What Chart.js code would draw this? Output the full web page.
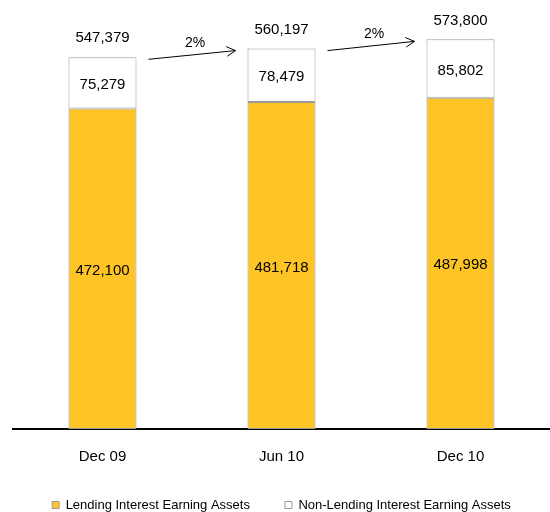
<!DOCTYPE html>
<html>
<head>
<meta charset="utf-8">
<script src="https://cdn.jsdelivr.net/npm/chart.js@4/dist/chart.umd.min.js"></script>
<style>
  html, body { margin: 0; padding: 0; background: #fff; }
  #wrap { width: 550px; height: 512px; }
</style>
</head>
<body>
<div id="wrap"><canvas id="assetsChart"></canvas></div>
<script>
var periods = ['Dec 09', 'Jun 10', 'Dec 10'];
var lending = [472100, 481718, 487998];
var nonLending = [75279, 78479, 85802];
var totals = [547379, 560197, 573800];
var growth = ['2%', '2%'];

var yellow = '#FEC425';
var edge = '#9a9a9a';
var fontName = '"Liberation Sans", Arial, sans-serif';

function fmt(v) {
    return v.toLocaleString('en-US');
}

// values inside the segments, totals above, and the growth arrows
var labelPlugin = {
    id: 'labels',
    afterDatasetsDraw: function(chart) {
        var ctx = chart.ctx;
        var bottom = chart.getDatasetMeta(0).data;
        var top = chart.getDatasetMeta(1).data;
        var y = chart.scales.y;
        ctx.save();
        ctx.fillStyle = '#000';
        ctx.font = '15px ' + fontName;
        ctx.textAlign = 'center';
        ctx.textBaseline = 'middle';
        for (var i = 0; i < periods.length; i++) {
            var b = bottom[i], t = top[i];
            ctx.fillText(fmt(lending[i]), b.x, (b.y + b.base) / 2 + 2);
            ctx.fillText(fmt(nonLending[i]), t.x, (t.y + t.base) / 2 + 2);
            ctx.fillText(fmt(totals[i]), t.x, y.getPixelForValue(totals[i]) - 19);
        }
        // arrows between bars
        ctx.strokeStyle = '#000';
        ctx.lineWidth = 1;
        for (var j = 0; j < growth.length; j++) {
            var a = top[j], n = top[j + 1];
            var x1 = a.x + a.width / 2 + 12;
            var y1 = y.getPixelForValue(totals[j]) + 2;
            var x2 = n.x - n.width / 2 - 12;
            var y2 = y.getPixelForValue(totals[j + 1]) + 2;
            ctx.beginPath();
            ctx.moveTo(x1, y1);
            ctx.lineTo(x2, y2);
            var ang = Math.atan2(y2 - y1, x2 - x1);
            var hl = 10;
            ctx.moveTo(x2 - hl * Math.cos(ang - 0.5), y2 - hl * Math.sin(ang - 0.5));
            ctx.lineTo(x2, y2);
            ctx.lineTo(x2 - hl * Math.cos(ang + 0.5), y2 - hl * Math.sin(ang + 0.5));
            ctx.stroke();
            ctx.font = '14px ' + fontName;
            ctx.fillText(growth[j], (x1 + x2) / 2 + 3, (y1 + y2) / 2 - 12);
        }
        ctx.restore();
    }
};

var config = {
    type: 'bar',
    data: {
        labels: periods,
        datasets: [{
            label: 'Lending Interest Earning Assets',
            data: lending,
            backgroundColor: yellow,
            borderColor: edge,
            borderWidth: 1,
            borderSkipped: false
        }, {
            label: 'Non-Lending Interest Earning Assets',
            data: nonLending,
            backgroundColor: '#ffffff',
            borderColor: edge,
            borderWidth: 1,
            borderSkipped: false
        }]
    },
    options: {
        responsive: true,
        maintainAspectRatio: false,
        animation: false,
        layout: {
            padding: { left: 13, right: 0, top: 8, bottom: -9.5 }
        },
        datasets: {
            bar: { categoryPercentage: 1, barPercentage: 0.38 }
        },
        plugins: {
            legend: {
                position: 'bottom',
                labels: {
                    boxWidth: 7,
                    boxHeight: 7,
                    padding: 35,
                    color: '#000',
                    font: { family: fontName, size: 13 }
                }
            },
            tooltip: { enabled: false }
        },
        scales: {
            x: {
                stacked: true,
                grid: { display: false, drawTicks: false },
                border: { display: true, color: '#000', width: 2 },
                ticks: {
                    color: '#000',
                    padding: 19,
                    font: { family: fontName, size: 15 }
                },
                afterFit: function(scale) {
                    scale.height = 34.5;
                }
            },
            y: {
                stacked: true,
                display: false,
                min: 0,
                max: 620000
            }
        }
    },
    plugins: [labelPlugin]
};

window.onload = function() {
    var ctx = document.getElementById('assetsChart').getContext('2d');
    window.assetsChart = new Chart(ctx, config);
};
</script>
</body>
</html>
